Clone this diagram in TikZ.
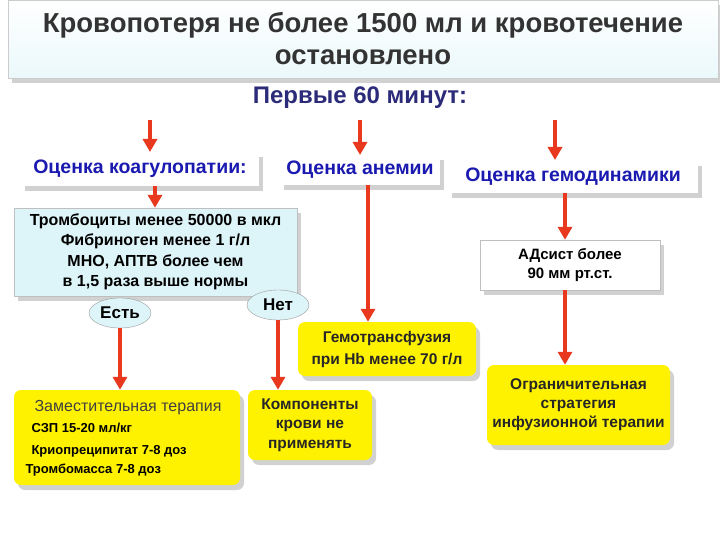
\documentclass[tikz,border=0pt]{standalone}
\usepackage{fontspec}
\setmainfont{Liberation Sans}
\usetikzlibrary{shadows,arrows.meta,shapes.geometric}
\definecolor{ttl}{HTML}{2B2B7A}
\definecolor{blu}{HTML}{1A1AB0}
\definecolor{lb}{HTML}{DDF4F8}
\definecolor{yel}{HTML}{FFF200}
\definecolor{arr}{HTML}{E8381E}
\tikzset{
 shd/.style={drop shadow={shadow xshift=4pt,shadow yshift=-5pt,fill=black!40,opacity=.45}},
 ybox/.style={fill=yel,rounded corners=7pt,shd,inner sep=0pt,align=center,text=black!85},
 wbox/.style={fill=white,shd,inner sep=0pt,font=\bfseries\fontsize{19.5}{22}\selectfont,text=blu},
 ell/.style={ellipse,draw=black!40,fill=lb,inner sep=0pt,minimum width=62pt,minimum height=30pt,font=\bfseries\fontsize{17}{18}\selectfont},
 ra/.style={arr,line width=3.5pt,-{Triangle[width=14pt,length=13pt]}}
}
\begin{document}
\begin{tikzpicture}[x=1pt,y=-1pt]
\useasboundingbox (0,0) rectangle (720,540);
\node[shd,top color=white,bottom color=lb!60,draw=black!20,minimum width=710pt,minimum height=78pt,inner sep=0pt,align=center,font=\bfseries\fontsize{27.5}{32}\selectfont,text=black!80] (title) at (363,39) {Кровопотеря не более 1500 мл и кровотечение\\остановлено};
\node[font=\bfseries\fontsize{24}{24}\selectfont,text=ttl] (first) at (360,98) {Первые 60 минут:};
\coordinate (a1) at (150,120); \coordinate (a2) at (360,120); \coordinate (a3) at (555,120);
\node[wbox,minimum width=238pt,minimum height=34pt] (coag) at (140,169) {Оценка коагулопатии:};
\node[wbox,minimum width=160pt,minimum height=30pt] (anem) at (360,170) {Оценка анемии};
\node[wbox,minimum width=250pt,minimum height=32pt] (hemo) at (573,177) {Оценка гемодинамики};
\draw[ra] (a1) -- (150,152);
\draw[ra] (a2) -- (360,155);
\draw[ra] (a3) -- (555,160);
\node[fill=lb,draw=black!25,shd,minimum width=283pt,minimum height=88pt,inner sep=0pt,align=center,font=\bfseries\fontsize{16}{20.5}\selectfont] (crit) at (155.5,252) {Тромбоциты менее 50000 в мкл\\Фибриноген менее 1 г/л\\МНО, АПТВ более чем\\в 1,5 раза выше нормы};
\draw[ra] (155,186) -- (crit.north -| 155,0);
\node[ell] (yes) at (120,313) {Есть};
\node[ell] (no) at (278,305) {Нет};
\node[fill=white,draw=black!25,shd,minimum width=180pt,minimum height=50pt,inner sep=0pt,align=center,font=\bfseries\fontsize{15}{19}\selectfont] (ad) at (570,265) {АДсист более\\90 мм рт.ст.};
\node[ybox,minimum width=178pt,minimum height=54pt,font=\bfseries\fontsize{15.5}{22}\selectfont] (gemo) at (387,349) {Гемотрансфузия\\при Hb менее 70 г/л};
\node[ybox,minimum width=183pt,minimum height=80pt,font=\bfseries\fontsize{15.5}{19}\selectfont] (restr) at (578.5,405) {Ограничительная\\стратегия\\инфузионной терапии};
\node[ybox,minimum width=226pt,minimum height=95pt] (subst) at (127,437.5) {};
\node[font=\fontsize{16}{16}\selectfont,text=black!75] (st) at (128,408) {Заместительная терапия};
\node[anchor=west,font=\bfseries\fontsize{13}{14}\selectfont] (s1) at (28,428) {СЗП 15-20 мл/кг};
\node[anchor=west,font=\bfseries\fontsize{13}{14}\selectfont] (s2) at (28,451) {Криопреципитат 7-8 доз};
\node[anchor=west,font=\bfseries\fontsize{13}{14}\selectfont] (s3) at (22,470) {Тромбомасса 7-8 доз};
\node[ybox,minimum width=124pt,minimum height=70pt,font=\bfseries\fontsize{15.5}{19.5}\selectfont] (comp) at (310,425) {Компоненты\\крови не\\применять};
\draw[ra] (yes.south) -- (subst.north -| yes.south);
\draw[ra] (278,320) -- (comp.north -| 278,0);
\draw[ra] (anem.south -| 368,0) -- (gemo.north -| 368,0);
\draw[ra] (hemo.south -| 565,0) -- (ad.north -| 565,0);
\draw[ra] (ad.south -| 565,0) -- (restr.north -| 565,0);
\end{tikzpicture}
\end{document}
